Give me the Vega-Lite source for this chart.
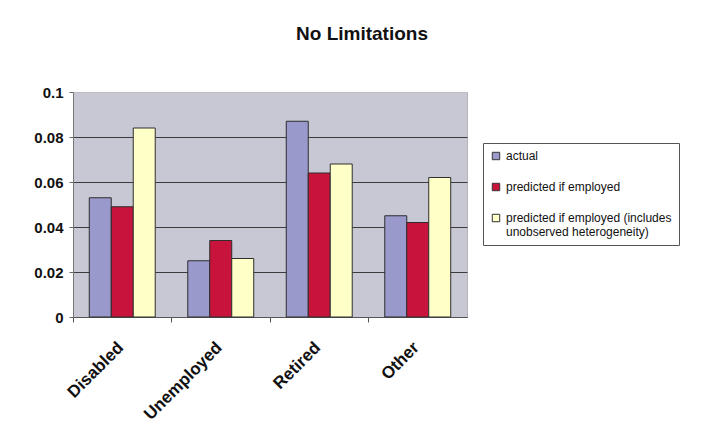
{
  "$schema": "https://vega.github.io/schema/vega-lite/v6.json",
  "width": 394,
  "height": 225,
  "autosize": {"type": "pad"},
  "padding": {"left": 33, "top": 25, "right": 0, "bottom": 0},
  "background": "white",
  "title": {
    "text": "No Limitations",
    "font": "Liberation Sans",
    "fontSize": 19,
    "fontWeight": "bold",
    "color": "#111111",
    "anchor": "middle",
    "dx": 92,
    "offset": 41
  },
  "data": {
    "values": [
      {"status": "Disabled", "series": "actual", "share": 0.053},
      {"status": "Disabled", "series": "predicted if employed", "share": 0.049},
      {"status": "Disabled", "series": "predicted if employed (includes unobserved heterogeneity)", "share": 0.084},
      {"status": "Unemployed", "series": "actual", "share": 0.025},
      {"status": "Unemployed", "series": "predicted if employed", "share": 0.034},
      {"status": "Unemployed", "series": "predicted if employed (includes unobserved heterogeneity)", "share": 0.026},
      {"status": "Retired", "series": "actual", "share": 0.087},
      {"status": "Retired", "series": "predicted if employed", "share": 0.064},
      {"status": "Retired", "series": "predicted if employed (includes unobserved heterogeneity)", "share": 0.068},
      {"status": "Other", "series": "actual", "share": 0.045},
      {"status": "Other", "series": "predicted if employed", "share": 0.042},
      {"status": "Other", "series": "predicted if employed (includes unobserved heterogeneity)", "share": 0.062}
    ]
  },
  "mark": {"type": "bar", "stroke": "#2e2e2e", "strokeWidth": 1},
  "encoding": {
    "x": {
      "field": "status",
      "type": "nominal",
      "sort": ["Disabled", "Unemployed", "Retired", "Other"],
      "scale": {"paddingInner": 0, "paddingOuter": 0},
      "axis": {
        "title": null,
        "bandPosition": 0,
        "labelAngle": -45,
        "labelAlign": "right",
        "labelBaseline": "top",
        "labelOffset": -7,
        "labelPadding": 17,
        "labelFontSize": 17,
        "labelFontWeight": "bold",
        "labelColor": "#111111",
        "domainColor": "#555555",
        "tickColor": "#555555",
        "tickSize": 5
      }
    },
    "xOffset": {
      "field": "series",
      "type": "nominal",
      "scale": {"paddingInner": 0, "paddingOuter": 0.74}
    },
    "y": {
      "field": "share",
      "type": "quantitative",
      "scale": {"domain": [0, 0.1], "nice": false},
      "axis": {
        "title": null,
        "values": [0, 0.02, 0.04, 0.06, 0.08, 0.1],
        "format": "~g",
        "labelFontSize": 15,
        "labelFontWeight": "bold",
        "labelColor": "#111111",
        "labelPadding": 6,
        "tickSize": 4,
        "tickColor": "#666666",
        "domainColor": "#777777",
        "gridColor": {"condition": {"test": "datum.value == 0.1", "value": "#bdbdc6"}, "value": "#3c3c3c"},
        "gridOpacity": 1
      }
    },
    "color": {
      "field": "series",
      "type": "nominal",
      "scale": {
        "domain": ["actual", "predicted if employed", "predicted if employed (includes unobserved heterogeneity)"],
        "range": ["#9999cc", "#c8143c", "#ffffc8"]
      },
      "legend": {
        "orient": "none",
        "legendX": 410,
        "legendY": 51,
        "title": null,
        "strokeColor": "#555555",
        "padding": 7,
        "symbolType": "square",
        "symbolSize": 55,
        "symbolStrokeColor": "#333333",
        "symbolStrokeWidth": 1,
        "labelFont": "Liberation Sans",
        "labelFontSize": 12,
        "labelColor": "#111111",
        "labelLimit": 400,
        "rowPadding": 19,
        "labelExpr": "datum.label == 'predicted if employed (includes unobserved heterogeneity)' ? ['predicted if employed (includes', 'unobserved heterogeneity)'] : datum.label"
      }
    }
  },
  "config": {
    "font": "Liberation Sans",
    "view": {"fill": "#c8c8d4", "stroke": "#b4b4bc"}
  }
}
